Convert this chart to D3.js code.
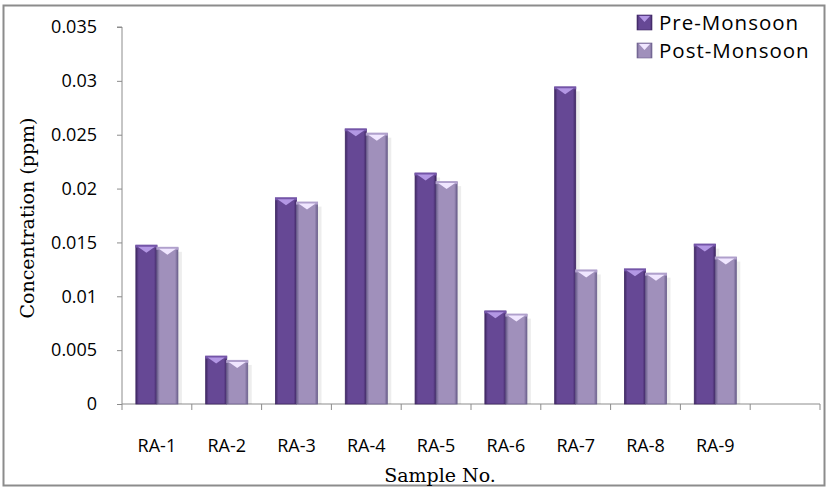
<!DOCTYPE html>
<html><head><meta charset="utf-8">
<script src="https://cdn.jsdelivr.net/npm/d3@7"></script>
<style>body{margin:0;background:#fff}svg{display:block}</style>
</head><body>
<script>
const categories = ["RA-1","RA-2","RA-3","RA-4","RA-5","RA-6","RA-7","RA-8","RA-9",""];
const preMonsoon  = [0.0147,0.0044,0.0191,0.0255,0.0214,0.0086,0.0294,0.0125,0.0148,null];
const postMonsoon = [0.0145,0.0040,0.0187,0.0251,0.0206,0.0083,0.0124,0.0121,0.0136,null];
const seriesNames = ["Pre-Monsoon","Post-Monsoon"];
const yTicks = [0,0.005,0.01,0.015,0.02,0.025,0.03,0.035];

const W=827,H=488;
const svg=d3.select("body").append("svg").attr("width",W).attr("height",H);
const defs=svg.append("defs");
const pal=[
  {edge:"#3f2763",mid:"#664895",cap:"#b397e4",capEdge:"#7455a8"},
  {edge:"#6b5f8c",mid:"#a090bb",cap:"#f0e6ff",capEdge:"#b0a0cc"}
];
pal.forEach((p,i)=>{
  const g=defs.append("linearGradient").attr("id","g"+i).attr("x1","0").attr("x2","1").attr("y1","0").attr("y2","0");
  g.append("stop").attr("offset","0").attr("stop-color",p.edge);
  g.append("stop").attr("offset","0.14").attr("stop-color",p.mid);
  g.append("stop").attr("offset","0.86").attr("stop-color",p.mid);
  g.append("stop").attr("offset","1").attr("stop-color",p.edge);
});

// outer frame
svg.append("rect").attr("x",3.5).attr("y",5.5).attr("width",821).attr("height",480)
  .attr("fill","none").attr("stroke","#8c8c8c").attr("stroke-width",2);

const m={l:122,r:820,t:27,b:404};
const x=d3.scaleBand().domain(d3.range(categories.length)).range([m.l,m.r]).paddingInner(0).paddingOuter(0);
const xs=d3.scaleBand().domain([0,1]).range([0,x.bandwidth()]).paddingInner(0).paddingOuter(0.66);
const y=d3.scaleLinear().domain([0,0.035]).range([m.b,m.t]);

// y axis
const ya=svg.append("g").attr("transform",`translate(${m.l},0)`)
  .call(d3.axisLeft(y).tickValues(yTicks).tickFormat(d=>d===0?"0":String(+d.toFixed(3))).tickSize(5).tickPadding(20));
ya.select(".domain").attr("stroke","#8c8c8c").attr("d",`M-5,${m.t}H0V${m.b}`);
ya.selectAll(".tick line").attr("stroke","#8c8c8c");
ya.selectAll("text").attr("font-family","'Open Sans',sans-serif").attr("font-size",18).attr("fill","#000");

// x axis
const xa=svg.append("g").attr("transform",`translate(0,${m.b})`);
xa.append("line").attr("x1",m.l).attr("x2",m.r).attr("stroke","#8c8c8c");
const bounds=d3.range(categories.length+1).map(i=>m.l+i*x.bandwidth());
xa.selectAll("line.t").data(bounds).join("line").attr("class","t")
  .attr("x1",d=>d).attr("x2",d=>d).attr("y1",0).attr("y2",6).attr("stroke","#8c8c8c");
xa.selectAll("text").data(categories).join("text")
  .attr("x",(d,i)=>x(i)+x.bandwidth()/2).attr("y",48).attr("text-anchor","middle")
  .attr("font-family","'Open Sans',sans-serif").attr("font-size",18).attr("fill","#000").text(d=>d);

// bars
const series=[preMonsoon,postMonsoon];
series.forEach((vals,s)=>{
  const g=svg.append("g");
  vals.forEach((v,i)=>{
    if(v==null)return;
    const bx=x(i)+xs(s), bw=xs.bandwidth(), by=y(v), bh=m.b-by;
    g.append("rect").attr("x",bx+bw).attr("y",by+4).attr("width",4).attr("height",bh-4).attr("fill","#000").attr("opacity",0.07);
    g.append("rect").attr("x",bx).attr("y",by).attr("width",bw).attr("height",bh)
      .attr("fill",`url(#g${s})`).attr("stroke",pal[s].edge).attr("stroke-width",0.8);
    g.append("rect").attr("x",bx-0.5).attr("y",by-1).attr("width",bw+1).attr("height",3).attr("fill",pal[s].capEdge);
    g.append("path").attr("d",`M${bx+2},${by+1}L${bx+bw-2},${by+1}L${bx+bw/2},${by+7}Z`).attr("fill",pal[s].cap);
  });
});

// axis titles
svg.append("text").attr("transform","translate(34,218) rotate(-90)").attr("text-anchor","middle")
  .attr("font-family","'DejaVu Serif',serif").attr("font-size",19).attr("fill","#000").text("Concentration (ppm)");
svg.append("text").attr("x",440).attr("y",482).attr("text-anchor","middle")
  .attr("font-family","'DejaVu Serif',serif").attr("font-size",19).attr("fill","#000").text("Sample No.");

// legend
const lg=svg.append("g").attr("transform","translate(637,0)");
seriesNames.forEach((n,i)=>{
  const r=lg.append("g").attr("transform",`translate(0,${30+i*28})`);
  r.append("rect").attr("x",0).attr("y",-15).attr("width",15).attr("height",15).attr("fill",`url(#g${i})`).attr("stroke",pal[i].edge).attr("stroke-width",0.6);
  r.append("path").attr("d","M2,-14L13,-14L7.5,-8Z").attr("fill",pal[i].cap);
  r.append("text").attr("x",22).attr("y",0).attr("font-family","'Open Sans',sans-serif").attr("font-size",20.5)
    .attr("letter-spacing",1).attr("fill","#000").text(n);
});
</script>
</body></html>
